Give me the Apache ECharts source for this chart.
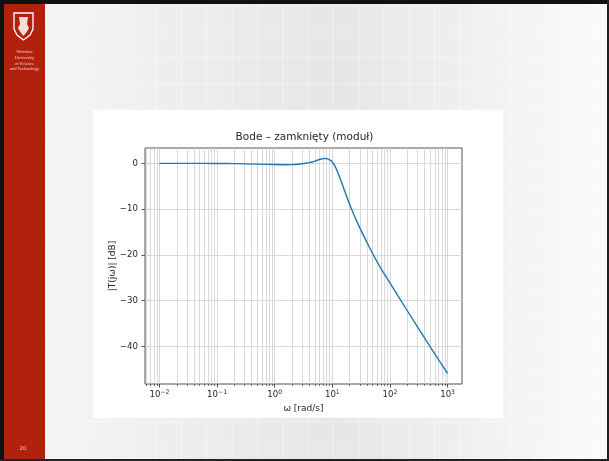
<!DOCTYPE html>
<html><head><meta charset="utf-8">
<script src="https://cdn.jsdelivr.net/npm/echarts@6/dist/echarts.min.js"></script>
<style>html,body{margin:0;padding:0;background:#fff}#c{width:609px;height:461px}</style>
</head><body><div id="c"></div>
<script>
// ---- data ----
const omega = [0.01, 0.03, 0.1, 0.2, 0.5, 1, 1.5, 2, 2.5, 3, 3.5, 4, 4.5, 5, 5.5, 6, 6.5, 7, 7.5, 8, 8.5, 9, 10, 11, 12, 13, 14, 15, 17, 20, 25, 30, 40, 50, 70, 100, 200, 500, 1000];
const magDb = [0.0, 0.0, -0.02, -0.06, -0.18, -0.27, -0.3, -0.28, -0.2, -0.1, 0.02, 0.15, 0.3, 0.5, 0.68, 0.83, 0.95, 1.03, 1.07, 1.03, 0.92, 0.74, 0.3, -0.5, -1.5, -2.6, -3.7, -4.7, -6.6, -9.0, -11.9, -14.1, -17.3, -19.7, -23.0, -26.1, -32.2, -40.1, -45.9];
const yTicks = [0, -10, -20, -30, -40];
const xMajorTicks = [0.01, 0.1, 1, 10, 100, 1000];
const titleText = 'Bode – zamknięty (moduł)';
const xName = 'ω [rad/s]';
const yName = '|T(jω)| [dB]';

const xMin = Math.pow(10, -2.25), xMax = Math.pow(10, 3.25);
const yMin = -48.2, yMax = 3.35;
const xMinorTicks = [];
for (let e = -3; e <= 3; e++) for (let k = 2; k <= 9; k++) {
  const v = k * Math.pow(10, e);
  if (v > xMin && v < xMax) xMinorTicks.push(v);
}

const W = 609, H = 461;
const FONT = 'DejaVu Sans';
const TXT = '#262626';
const GRIDC = '#cfcfcf';

// ---- slide decoration ----
const bg = [];
bg.push({type: 'rect', z: -100, shape: {x: 0, y: 0, width: W, height: H},
  style: {fill: new echarts.graphic.LinearGradient(0, 0, 1, 0, [
    {offset: 0, color: '#f7f7f7'}, {offset: 0.35, color: '#ececec'},
    {offset: 0.55, color: '#e6e6e6'}, {offset: 0.75, color: '#efefef'}, {offset: 1, color: '#fbfbfb'}])}});
for (let x = 55; x < W; x += 25.3) {
  bg.push({type: 'line', z: -99, shape: {x1: x, y1: 0, x2: x, y2: H}, style: {stroke: 'rgba(255,255,255,0.45)', lineWidth: 1}});
}
for (let y = 6; y < H; y += 26) {
  bg.push({type: 'line', z: -99, shape: {x1: 45, y1: y, x2: W, y2: y}, style: {stroke: 'rgba(255,255,255,0.45)', lineWidth: 1}});
}
// white chart panel
bg.push({type: 'rect', z: -90, shape: {x: 93, y: 110, width: 410, height: 308}, style: {fill: '#ffffff'}});
// red sidebar
bg.push({type: 'rect', z: -80, shape: {x: 4, y: 4, width: 41, height: H - 6}, style: {fill: '#b2200e'}});
// logo shield
bg.push({type: 'polygon', z: -79, shape: {points: [[14,13],[33,13],[33,29],[30,35],[23.5,40],[17,35],[14,29]]},
  style: {fill: 'none', stroke: '#ffffff', lineWidth: 1.3}});
bg.push({type: 'polygon', z: -79, shape: {points: [[19,17],[28,17],[27,24],[29,28],[26,33],[23.5,36],[21,33],[18,28],[20,24]]},
  style: {fill: 'rgba(255,255,255,0.85)'}});
const logoLines = ['Wrocław', 'University', 'of Science', 'and Technology'];
logoLines.forEach((t, i) => bg.push({type: 'text', z: -79, x: 24.5, y: 52 + i * 5.7,
  style: {text: t, fill: 'rgba(255,225,215,0.9)', font: '4.6px "Liberation Serif"', align: 'center', verticalAlign: 'middle'}}));
bg.push({type: 'text', z: -79, x: 23, y: 449, style: {text: '20', fill: '#f2c8c0', font: '5.5px "DejaVu Sans"', align: 'center', verticalAlign: 'middle'}});
// dark slide frame
bg.push({type: 'rect', z: -78, shape: {x: 0, y: 0, width: W, height: 4}, style: {fill: '#111'}});
bg.push({type: 'rect', z: -78, shape: {x: 0, y: 0, width: 4, height: H}, style: {fill: '#111'}});
bg.push({type: 'rect', z: -78, shape: {x: 0, y: H - 2, width: W, height: 2}, style: {fill: '#222'}});
bg.push({type: 'rect', z: -78, shape: {x: W - 2, y: 0, width: 2, height: H}, style: {fill: '#222'}});

function expLabel(v) {
  const e = Math.round(Math.log10(v));
  return '{b|10}{s|' + String(e).replace('-', '−') + '}';
}

const chart = echarts.init(document.getElementById('c'), null, {renderer: 'canvas'});
chart.setOption({
  animation: false,
  backgroundColor: 'transparent',
  graphic: {elements: bg},
  title: {text: titleText, left: 'center', top: 132, padding: 0,
    textStyle: {fontFamily: FONT, fontSize: 10.5, fontWeight: 'normal', color: TXT}},
  grid: {left: 145, right: 147, top: 148, bottom: 77, show: true, borderColor: TXT, borderWidth: 0.8,
    backgroundColor: 'transparent', containLabel: false, outerBoundsMode: 'none'},
  xAxis: [
    {type: 'log', logBase: 10, min: xMin, max: xMax, position: 'bottom',
      axisLine: {show: false, onZero: false},
      axisTick: {show: true, customValues: xMajorTicks, length: 3.5, lineStyle: {color: TXT, width: 0.8}},
      axisLabel: {customValues: xMajorTicks, formatter: expLabel, margin: 6,
        rich: {
          b: {fontFamily: FONT, fontSize: 8.6, color: TXT, lineHeight: 10},
          s: {fontFamily: FONT, fontSize: 6.1, color: TXT, lineHeight: 6, padding: [0, 0, 6, 0]}
        }},
      splitLine: {show: true, lineStyle: {color: GRIDC, width: 0.8}},
      name: xName, nameLocation: 'middle', nameGap: 20, nameMoveOverlap: false,
      nameTextStyle: {fontFamily: FONT, fontSize: 9, color: TXT}},
    {type: 'log', logBase: 10, min: xMin, max: xMax, position: 'bottom',
      axisLine: {show: false, onZero: false},
      axisTick: {show: true, customValues: xMinorTicks, length: 2, lineStyle: {color: TXT, width: 0.6}},
      axisLabel: {show: false},
      splitLine: {show: true, lineStyle: {color: GRIDC, width: 0.8}}}
  ],
  yAxis: {type: 'value', min: yMin, max: yMax,
    axisLine: {show: false, onZero: false},
    axisTick: {show: true, customValues: yTicks, length: 3.5, lineStyle: {color: TXT, width: 0.8}},
    axisLabel: {customValues: yTicks, margin: 7, fontFamily: FONT, fontSize: 8.6, color: TXT,
      formatter: v => String(v).replace('-', '−')},
    splitLine: {show: true, lineStyle: {color: GRIDC, width: 0.8}},
    name: yName, nameLocation: 'middle', nameGap: 28, nameRotate: 90, nameMoveOverlap: false,
    nameTextStyle: {fontFamily: FONT, fontSize: 9, color: TXT}},
  series: [{type: 'line', xAxisIndex: 0, data: omega.map((w, i) => [w, magDb[i]]),
    showSymbol: false, smooth: 0.25, lineStyle: {color: '#1f77b4', width: 1.4}, z: 5}]
});
</script></body></html>
